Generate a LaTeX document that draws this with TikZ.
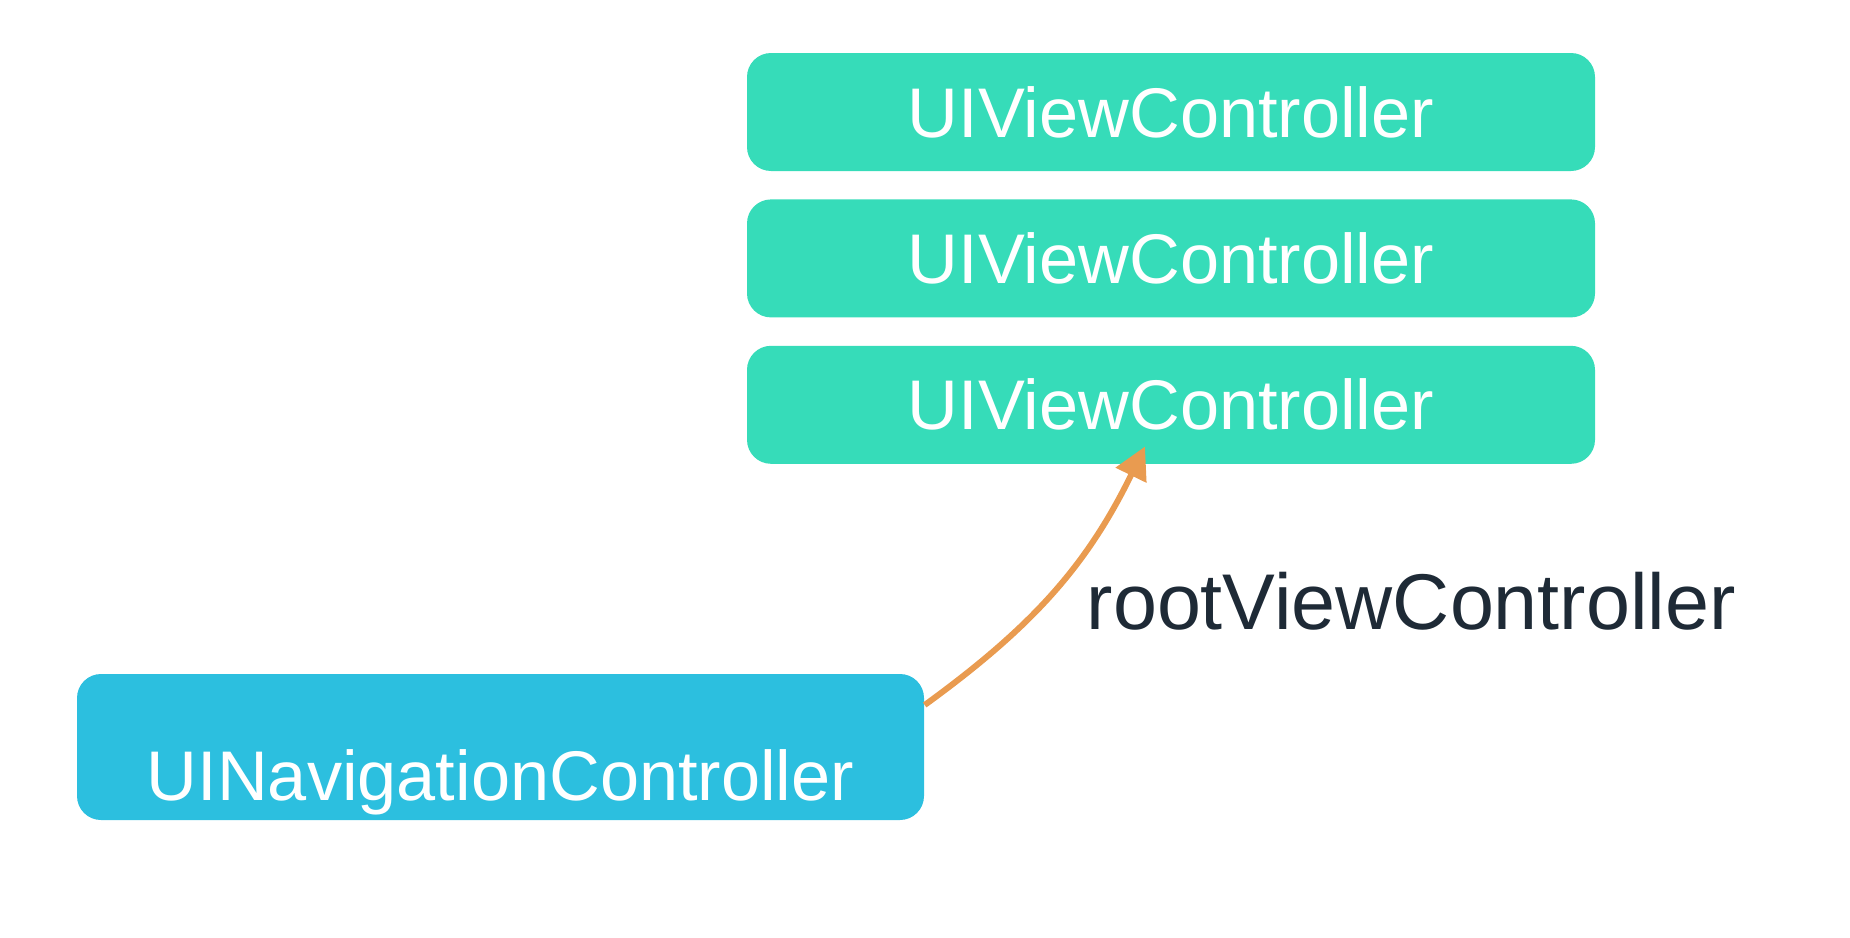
\documentclass[tikz,border=0pt]{standalone}
\usepackage{fontspec}
\setmainfont{Liberation Sans}
\usetikzlibrary{arrows.meta,positioning}
\definecolor{vcc}{HTML}{36DCB9}
\definecolor{navc}{HTML}{2CBFDF}
\definecolor{refc}{HTML}{E99B50}
\definecolor{labc}{HTML}{1E2A36}
\tikzset{
  ctrl/.style ={rounded corners=2.4mm,text=white,minimum width=8.48cm,
                font=\fontsize{20}{24}\selectfont},
  vc/.style   ={ctrl,fill=vcc,minimum height=1.18cm},
  nav/.style  ={ctrl,fill=navc,minimum width=8.47cm,inner ysep=0pt,
                text height=1.26cm,text depth=0.2cm},
  link/.style ={refc,line width=1.7pt,-{Triangle[length=3.2mm,width=3.3mm]}},
  lab/.style  ={text=labc,inner sep=0pt,font=\fontsize{22.5}{27}\selectfont},
}

\begin{document}
\begin{tikzpicture}
    \useasboundingbox (0,0) rectangle (18.5,-9.38);

    % view controller stack
    \node[vc] (vc1) at (11.71,-1.12) {UIViewController};
    \node[vc,below=0.27cm of vc1] (vc2) {UIViewController};
    \node[vc,below=0.27cm of vc2] (vc3) {UIViewController};
    % navigation controller
    \node[nav] (nav) at (5.005,-7.47) {UINavigationController};

    % root reference
    \draw[link] ([yshift=4.2mm]nav.east) to[out=36,in=-116]
      ([xshift=-2.6mm,yshift=1.8mm]vc3.south);
    \node[lab,anchor=base west] (root) at (10.86,-6.29) {rootViewController};
\end{tikzpicture}
\end{document}
